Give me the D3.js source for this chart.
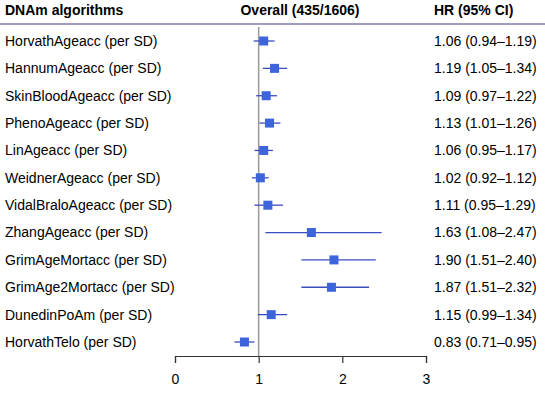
<!DOCTYPE html>
<html>
<head>
<meta charset="utf-8">
<script src="https://cdn.jsdelivr.net/npm/d3@7"></script>
<style>
  body { margin: 0; background: #fff; }
  text { font-family: "Liberation Sans", Arial, sans-serif; }
</style>
</head>
<body>
<div id="wrapper"></div>
<script>
// ---------- DATA -----------------------------------------------
const labels = [
  "HorvathAgeacc (per SD)", "HannumAgeacc (per SD)", "SkinBloodAgeacc (per SD)",
  "PhenoAgeacc (per SD)", "LinAgeacc (per SD)", "WeidnerAgeacc (per SD)",
  "VidalBraloAgeacc (per SD)", "ZhangAgeacc (per SD)", "GrimAgeMortacc (per SD)",
  "GrimAge2Mortacc (per SD)", "DunedinPoAm (per SD)", "HorvathTelo (per SD)"
];
const hr =    [1.06, 1.19, 1.09, 1.13, 1.06, 1.02, 1.11, 1.63, 1.90, 1.87, 1.15, 0.83];
const lower = [0.94, 1.05, 0.97, 1.01, 0.95, 0.92, 0.95, 1.08, 1.51, 1.51, 0.99, 0.71];
const upper = [1.19, 1.34, 1.22, 1.26, 1.17, 1.12, 1.29, 2.47, 2.40, 2.32, 1.34, 0.95];
const xTicks = [0, 1, 2, 3];
const headers = ["DNAm algorithms", "Overall (435/1606)", "HR (95% CI)"];

// ---------- DIMENSIONS -----------------------------------------
const width = 545, height = 394;
const fmt = d3.format(".2f");
const fontSize = 14;

const svg = d3.select("#wrapper").append("svg")
  .attr("width", width).attr("height", height);

const xScale = d3.scaleLinear().domain([0, 3]).range([175, 426]);
const yScale = d3.scalePoint().domain(labels).range([41, 342]);
const axisY = 356;
const hrX = 434;

// header
svg.append("line")
  .attr("x1", 0).attr("x2", width).attr("y1", 24).attr("y2", 24)
  .attr("stroke", "#7c7caa").attr("stroke-width", 1.5);

const headerX = [5, 300, hrX];
const headerAnchor = ["start", "middle", "start"];
svg.selectAll(".header").data(headers).join("text")
  .attr("class", "header")
  .attr("x", (d, i) => headerX[i])
  .attr("y", 15)
  .attr("text-anchor", (d, i) => headerAnchor[i])
  .attr("font-size", fontSize).attr("font-weight", "bold")
  .text(d => d);

// reference line at HR = 1
svg.append("line")
  .attr("x1", xScale(1)).attr("x2", xScale(1))
  .attr("y1", 27).attr("y2", axisY)
  .attr("stroke", "#9a9a9a").attr("stroke-width", 1.5);

// rows
const rows = svg.selectAll(".row").data(labels).join("g")
  .attr("class", "row")
  .attr("transform", d => `translate(0,${yScale(d)})`);

rows.append("text")
  .attr("x", 5).attr("dy", "0.35em")
  .attr("font-size", fontSize)
  .text(d => d);

rows.append("line")
  .attr("x1", (d, i) => xScale(lower[i]))
  .attr("x2", (d, i) => xScale(upper[i]))
  .attr("stroke", "#3b4cc0").attr("stroke-width", 1.3);

const sq = 9;
rows.append("rect")
  .attr("x", (d, i) => xScale(hr[i]) - sq / 2)
  .attr("y", -sq / 2)
  .attr("width", sq).attr("height", sq)
  .attr("fill", "#3e64dc");

rows.append("text")
  .attr("x", hrX).attr("dy", "0.35em")
  .attr("font-size", fontSize)
  .text((d, i) => `${fmt(hr[i])} (${fmt(lower[i])}\u2013${fmt(upper[i])})`);

// x axis
const xAxis = svg.append("g")
  .attr("transform", `translate(0,${axisY})`)
  .call(d3.axisBottom(xScale).tickValues(xTicks).tickFormat(d3.format("d"))
    .tickSize(7).tickPadding(11));
xAxis.select(".domain").attr("stroke", "#333").attr("stroke-width", 1.2);
xAxis.selectAll(".tick line").attr("stroke", "#333").attr("stroke-width", 1.2);
xAxis.selectAll(".tick text")
  .attr("font-size", fontSize).attr("fill", "#000")
  .attr("font-family", "Liberation Sans, Arial, sans-serif");
</script>
</body>
</html>
